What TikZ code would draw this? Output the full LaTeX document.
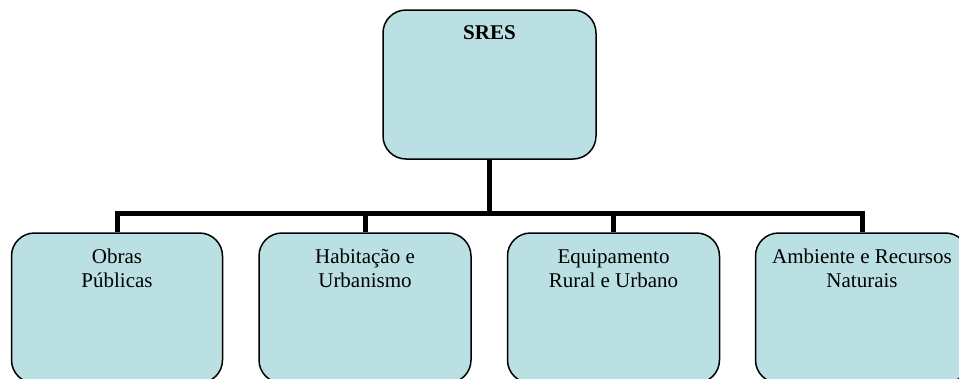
\documentclass[tikz,border=0pt]{standalone}
\usepackage{fontspec}
\setmainfont{Liberation Serif}
\definecolor{boxfill}{RGB}{186,224,227}
\tikzset{
  orgbox/.style={draw=black, line width=1.5pt, fill=boxfill, rounded corners=23pt, minimum width=212pt, minimum height=150pt, inner sep=0pt},
  boxtext/.style={anchor=north, align=center, inner sep=0pt, font=\fontsize{21}{24}\selectfont},
  conn/.style={draw=black, line width=5pt}
}
\begin{document}
\begin{tikzpicture}[x=1pt,y=-1pt]
\useasboundingbox (0,0) rectangle (959,378);
% top box
\node[orgbox, minimum width=213pt, minimum height=149pt] (top) at (489.5,84.5) {};
\node[boxtext, font=\fontsize{21}{24}\selectfont\bfseries] (toptxt) at (489.5,25) {SRES};
% bottom boxes
\node[orgbox, minimum width=211pt] (b1) at (117,308) {};
\node[orgbox] (b2) at (365,308) {};
\node[orgbox] (b3) at (613.5,308) {};
\node[orgbox, minimum width=213pt] (b4) at (862,308) {};
\node[boxtext] (t1) at (117,249) {Obras\\Públicas};
\node[boxtext] (t2) at (365,249) {Habitação e\\Urbanismo};
\node[boxtext] (t3) at (613.5,249) {Equipamento\\Rural e Urbano};
\node[boxtext] (t4) at (862,249) {Ambiente e Recursos\\Naturais};
% connectors
\coordinate (bus) at (489.5,213);
\coordinate (busL) at (117,213);
\coordinate (busR) at (862,213);
\draw[conn] (top.south) -- (bus);
\draw[conn, line cap=rect] (busL) -- (busR);
\draw[conn] (busL) -- (b1.north);
\draw[conn] (b2.north |- bus) -- (b2.north);
\draw[conn] (b3.north |- bus) -- (b3.north);
\draw[conn] (busR) -- (b4.north);
\end{tikzpicture}
\end{document}
